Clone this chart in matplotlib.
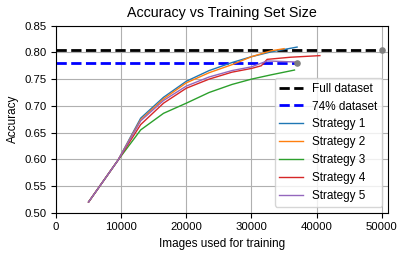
import matplotlib
matplotlib.use("Agg")
import matplotlib.pyplot as plt

plt.rcParams['font.family'] = ['Liberation Sans', 'DejaVu Sans']

# reference lines
full_x = [0, 50000]
full_acc = 0.805
part_x = [0, 37000]
part_acc = 0.780

# strategies: training-set sizes and accuracies
s1_x = [5000, 9500, 13000, 16500, 20000, 23500, 27000, 30000, 33000, 37000]
s1_y = [0.520, 0.598, 0.677, 0.716, 0.746, 0.766, 0.781, 0.792, 0.801, 0.810]
s2_x = [5000, 9500, 13000, 16500, 20000, 23500, 27000, 30000, 33000, 35000]
s2_y = [0.520, 0.598, 0.674, 0.713, 0.743, 0.762, 0.777, 0.792, 0.803, 0.807]
s3_x = [5000, 9500, 13000, 16500, 20000, 23500, 27000, 30000, 33000, 36600]
s3_y = [0.520, 0.598, 0.655, 0.686, 0.705, 0.725, 0.740, 0.750, 0.758, 0.767]
s4_x = [5000, 9500, 13000, 16500, 20000, 23500, 27000, 30000, 31500, 32400, 36000, 40500]
s4_y = [0.520, 0.598, 0.665, 0.705, 0.733, 0.750, 0.763, 0.770, 0.775, 0.787, 0.791, 0.794]
s5_x = [5000, 9500, 13000, 16500, 20000, 23500, 27000, 30000, 32400, 37000]
s5_y = [0.520, 0.598, 0.672, 0.710, 0.737, 0.754, 0.766, 0.773, 0.784, 0.782]

strategies = [("Strategy 1", s1_x, s1_y), ("Strategy 2", s2_x, s2_y),
              ("Strategy 3", s3_x, s3_y), ("Strategy 4", s4_x, s4_y),
              ("Strategy 5", s5_x, s5_y)]

fig = plt.figure(figsize=(4.07, 2.57), dpi=100)
ax = fig.add_axes([0.1376, 0.1724, 0.8165, 0.7276])

ax.plot(full_x, [full_acc, full_acc], "k--", lw=2, label="Full dataset")
ax.plot(part_x, [part_acc, part_acc], "b--", lw=2, label="74% dataset")
for name, xs, ys in strategies:
    ax.plot(xs, ys, lw=1, label=name)
ax.scatter([full_x[-1], part_x[-1]], [full_acc, part_acc], color="gray", s=14, zorder=3)

ax.set_xlim(0, 51000)
ax.set_ylim(0.50, 0.85)
ax.set_xticks([0, 10000, 20000, 30000, 40000, 50000])
ax.set_yticks([0.50, 0.55, 0.60, 0.65, 0.70, 0.75, 0.80, 0.85])
ax.tick_params(labelsize=8.2)
ax.grid(True, color="#b0b0b0", lw=0.8)
ax.set_axisbelow(True)

ax.set_title("Accuracy vs Training Set Size", fontsize=10.3)
ax.set_xlabel("Images used for training", fontsize=8.5)
ax.set_ylabel("Accuracy", fontsize=8.5)
ax.legend(loc="lower right", fontsize=8.5)

fig.savefig("out.png", dpi=100)
